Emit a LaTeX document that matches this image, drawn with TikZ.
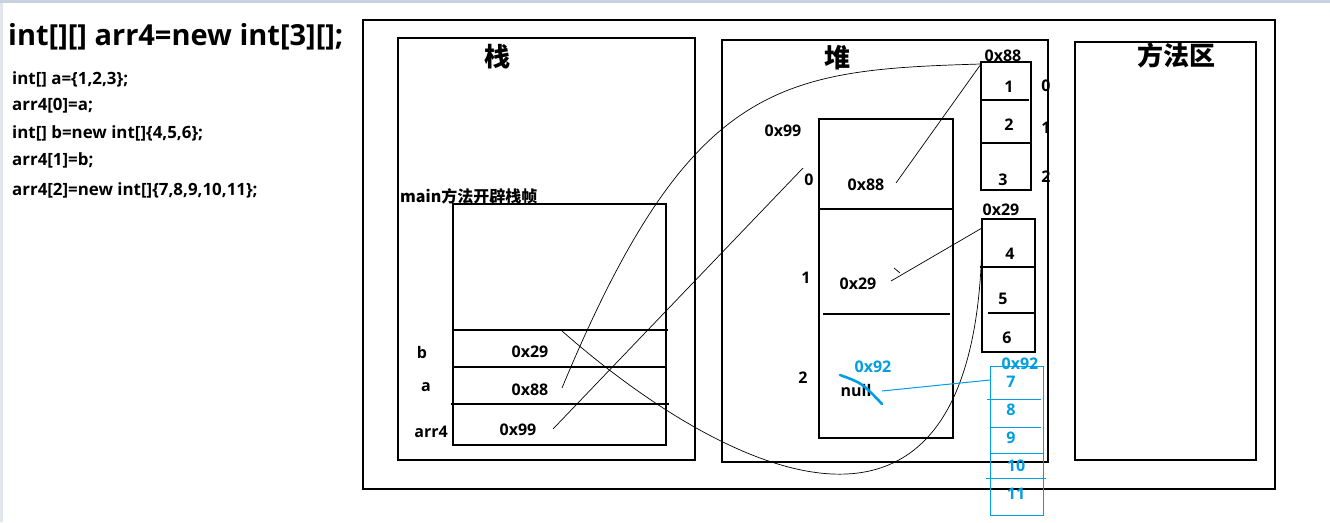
\documentclass[tikz,border=0pt]{standalone}
\usepackage{fontspec}
\setmainfont{Open Sans}
\newfontfamily\cjk{Noto Sans CJK SC}
\definecolor{azure}{RGB}{0,158,226}
\definecolor{topband}{RGB}{200,210,224}
\definecolor{leftband}{RGB}{226,229,234}
\tikzset{
  box/.style={draw=black, line width=1.1pt},
  bluebox/.style={draw=azure, line width=1pt},
  wire/.style={draw=black, line width=0.7pt},
  bluewire/.style={draw=azure, line width=1pt},
  lbl/.style={font=\bfseries\fontsize{16}{17}\selectfont, inner sep=0pt},
  blbl/.style={lbl, text=azure},
  code/.style={font=\bfseries\fontsize{16.9}{18}\selectfont, anchor=west, inner sep=0pt},
  title/.style={font=\bfseries\fontsize{29}{32}\selectfont, anchor=west, inner sep=0pt},
  area/.style={font=\cjk\bfseries\fontsize{26}{28}\selectfont, inner sep=0pt},
  frametxt/.style={font=\cjk\bfseries\fontsize{16}{17}\selectfont, anchor=west, inner sep=0pt},
}
\begin{document}
\begin{tikzpicture}[x=1pt,y=-1pt]
\useasboundingbox (0,0) rectangle (1330,522);
\fill[white] (0,0) rectangle (1330,522);
\fill[topband] (0,0) rectangle (1330,2.5);
\fill[leftband] (0,2.5) rectangle (3,522);

% code text
\node[title] (ttl) at (8,37) {int[][] arr4=new int[3][];};
\node[code] (c1) at (12,79) {int[] a=\{1,2,3\};};
\node[code] (c2) at (12,106) {arr4[0]=a;};
\node[code] (c3) at (12,133) {int[] b=new int[]\{4,5,6\};};
\node[code] (c4) at (12,160) {arr4[1]=b;};
\node[code] (c5) at (12,190) {arr4[2]=new int[]\{7,8,9,10,11\};};

% areas
\draw[box] (363,20) rectangle (1275,489);
\draw[box] (398,38) rectangle (695,460);
\draw[box] (722,40) rectangle (1048,462);
\draw[box] (1075,42) rectangle (1256,460);
\node[area] (zhan) at (497,57) {栈};
\node[area] (dui) at (837,58) {堆};
\node[area] (ff) at (1176,55) {方法区};

% stack frame
\node[frametxt] (mf) at (400,196) {main方法开辟栈帧};
\draw[box] (453,204) rectangle (666,445);
\draw[box] (453,330) -- (668,330);
\draw[box] (453,367) -- (665,367);
\draw[box] (451,404) -- (669,404);
\node[lbl] (vb) at (422,352) {b};
\node[lbl] (va) at (426,387) {a};
\node[lbl] (varr) at (431,432) {arr4};
\node[lbl] (sb) at (530,352) {0x29};
\node[lbl] (sa) at (530,390) {0x88};
\node[lbl] (sarr) at (518,430) {0x99};

% heap: arr4 array
\draw[box] (819,119) rectangle (953,438);
\draw[box] (819,209) -- (953,209);
\draw[box] (823,314) -- (950,314);
\node[lbl] (h99) at (783,131) {0x99};
\node[lbl] (i0) at (809,180) {0};
\node[lbl] (i1) at (806,278) {1};
\node[lbl] (i2) at (803,378) {2};
\node[lbl] (e0) at (866,185) {0x88};
\node[lbl] (e1) at (858,284) {0x29};
\node[blbl] (e2new) at (873,367) {0x92};
\node[lbl] (e2) at (856,390) {null};

% array a
\draw[box] (981,62) rectangle (1031,190);
\draw[box] (981,100) -- (1029,100);
\draw[box] (981,143) -- (1031,143);
\node[lbl] (aadr) at (1003,56) {0x88};
\node[lbl] (a1) at (1009,87) {1};
\node[lbl] (a2) at (1009,125) {2};
\node[lbl] (a3) at (1003,180) {3};
\node[lbl] (ai0) at (1046,86) {0};
\node[lbl] (ai1) at (1046,128) {1};
\node[lbl] (ai2) at (1046,177) {2};

% array b
\draw[box] (982,219) rectangle (1035,352);
\draw[box] (980,267) -- (1035,267);
\draw[box] (988,313) -- (1035,313);
\node[lbl] (badr) at (1001,210) {0x29};
\node[lbl] (b4) at (1010,254) {4};
\node[lbl] (b5) at (1003,299) {5};
\node[lbl] (b6) at (1007,338) {6};

% array c (blue)
\draw[bluebox] (990,366) rectangle (1043,515);
\draw[bluebox] (987,399) -- (1041,399);
\draw[bluebox] (991,427) -- (1041,427);
\draw[bluebox] (991,453) -- (1043,453);
\draw[bluebox] (986,478) -- (1046,478);
\node[blbl] (cadr) at (1020,364) {0x92};
\node[blbl] (c7) at (1011,382) {7};
\node[blbl] (c8) at (1011,410) {8};
\node[blbl] (c9) at (1011,438) {9};
\node[blbl] (c10) at (1016,466) {10};
\node[blbl] (c11) at (1016,494) {11};

% connector end points
\coordinate (pa) at (562,388);
\coordinate (pb) at (562,331);
\coordinate (parr) at (553,429);
\coordinate (parrend) at (803,168);
\coordinate (A0) at (981,64);
\coordinate (B0) at (982,228);
\coordinate (B0top) at (982,221);
\coordinate (h0) at (896,183);
\coordinate (h1) at (891,281);
\coordinate (hn) at (882,391);
\coordinate (C0) at (990,380);
\coordinate (tk1) at (894,268);
\coordinate (tk2) at (900,273);
\coordinate (st1) at (840,375);
\coordinate (st2) at (882,404);

% connectors
\draw[wire] (pa) .. controls (690,80) and (780,70) .. (A0);
\draw[wire] (h0) -- (A0);
\draw[wire] (parr) -- (parrend);
\draw[wire] (h1) -- (B0);
\draw[wire] (tk1) -- (tk2);
\draw[wire] (pb) .. controls (720,470) and (985,610) .. (B0top);
\draw[bluewire] (hn) -- (C0);
\draw[azure, line width=2.6pt, line cap=round] (st1) .. controls (862,383) .. (st2);
\end{tikzpicture}
\end{document}
